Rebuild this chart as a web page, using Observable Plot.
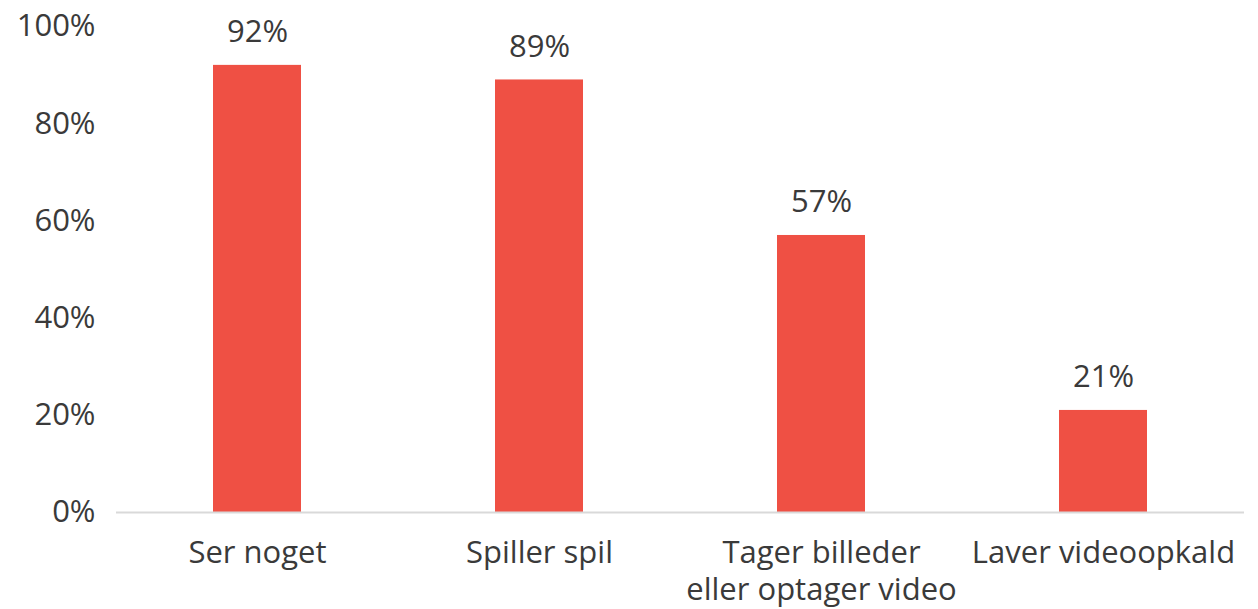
<!DOCTYPE html>
<html>
<head>
<meta charset="utf-8">
<script src="https://cdn.jsdelivr.net/npm/d3@7"></script>
<script src="https://cdn.jsdelivr.net/npm/@observablehq/plot@0.6"></script>
<style>
  html, body { margin: 0; padding: 0; background: #fff; }
  #chart svg { display: block; }
</style>
</head>
<body>
<div id="chart"></div>
<script>
const categories = ["Ser noget", "Spiller spil", "Tager billeder\neller optager video", "Laver videoopkald"];
const values = [92, 89, 57, 21];
const yTicks = [0, 20, 40, 60, 80, 100];

const data = categories.map((c, i) => ({category: c, value: values[i]}));

const chart = Plot.plot({
  width: 1258,
  height: 609,
  marginLeft: 116,
  marginRight: 14,
  marginTop: 26,
  marginBottom: 97,
  style: {fontFamily: "'Open Sans', sans-serif", fontSize: "31px", color: "#3a3a3a", background: "#fff"},
  x: {domain: categories, paddingInner: 0.688, paddingOuter: 0.344, align: 0.5, label: null},
  y: {domain: [0, 100], label: null},
  marks: [
    Plot.barY(data, {x: "category", y: "value", fill: "#ef5044"}),
    Plot.ruleY([0], {stroke: "#d9d9d9", strokeWidth: 2}),
    Plot.text(data, {x: "category", y: "value", text: d => d.value + "%", dy: -33, fontSize: 31, fill: "#3a3a3a"}),
    Plot.axisY({ticks: yTicks, tickSize: 0, tickPadding: 21, tickFormat: d => d + "%", fontSize: 31, fill: "#3a3a3a", label: null}),
    Plot.axisX({tickSize: 0, tickPadding: 25, fontSize: 31, lineHeight: 1.17, fill: "#3a3a3a", label: null})
  ]
});
document.getElementById("chart").appendChild(chart);
</script>
</body>
</html>
